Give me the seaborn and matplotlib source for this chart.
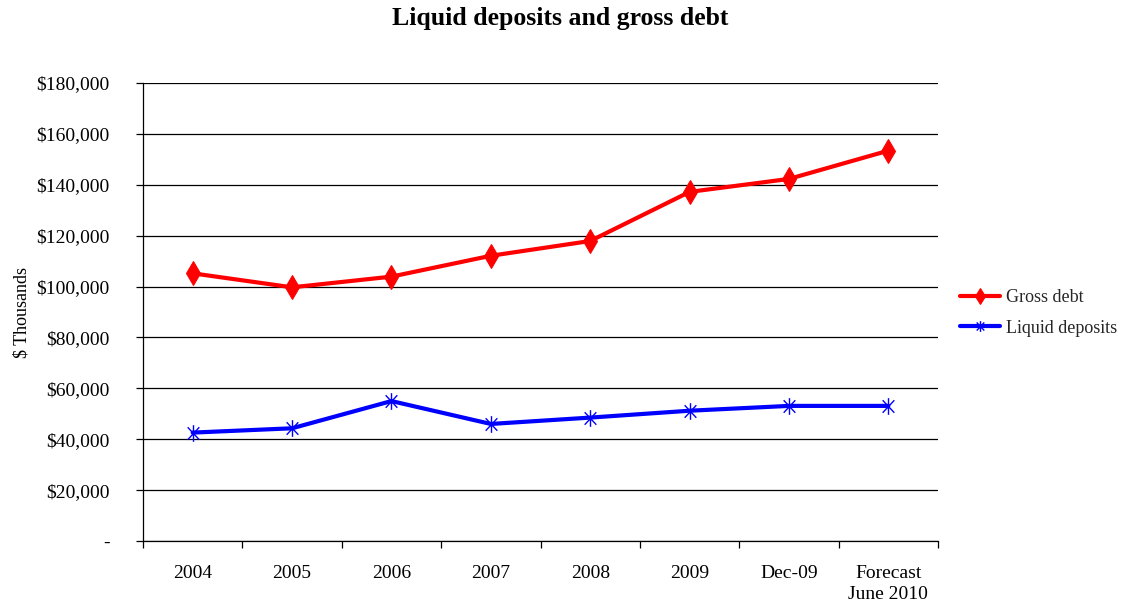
import matplotlib
matplotlib.use("Agg")
import matplotlib.pyplot as plt
import seaborn as sns
import pandas as pd
import numpy as np
from matplotlib.path import Path
from matplotlib.ticker import FixedLocator, FuncFormatter

categories = ["2004", "2005", "2006", "2007", "2008", "2009", "Dec-09", "Forecast\nJune 2010"]
gross_debt = [105200, 99700, 103900, 112100, 117900, 137200, 142300, 153400]
liquid_deposits = [42600, 44300, 55000, 46000, 48500, 51200, 53100, 53100]
y_ticks = [0, 20000, 40000, 60000, 80000, 100000, 120000, 140000, 160000, 180000]

sns.set_theme(style="white")
plt.rcParams['font.family'] = ['Liberation Serif', 'DejaVu Serif']

df = pd.DataFrame({
    "pos": list(range(len(categories))) * 2,
    "value": gross_debt + liquid_deposits,
    "series": ["Gross debt"] * len(categories) + ["Liquid deposits"] * len(categories),
})

fig = plt.figure(figsize=(11.33, 6.03), dpi=100)
ax = fig.add_axes([143 / 1133, 1 - 541 / 603, (938 - 143) / 1133, (541 - 83) / 603])

asterisk = Path(
    [(0, -1), (0, 1), (-0.7, -0.75), (0.7, 0.75), (-0.7, 0.75), (0.7, -0.75)],
    [Path.MOVETO, Path.LINETO, Path.MOVETO, Path.LINETO, Path.MOVETO, Path.LINETO],
)

for ylev in y_ticks:
    ax.axhline(ylev, color="black", lw=0.9, zorder=0)

sns.lineplot(data=df[df.series == "Gross debt"], x="pos", y="value", ax=ax,
             color="#ff0000", lw=3.0, marker="d", markersize=12,
             markeredgecolor="#ff0000", markerfacecolor="#ff0000",
             label="Gross debt", zorder=3)
sns.lineplot(data=df[df.series == "Liquid deposits"], x="pos", y="value", ax=ax,
             color="#0000ff", lw=3.0, marker=asterisk, markersize=12,
             markeredgecolor="#0000ff", markeredgewidth=1.0, fillstyle="none",
             label="Liquid deposits", zorder=3)

ax.set_xlim(-0.5, len(categories) - 0.5)
ax.set_ylim(0, 180000)
ax.set_yticks(y_ticks)
ax.yaxis.set_major_formatter(FuncFormatter(lambda v, p: "-" if v == 0 else f"${v:,.0f}"))
ax.set_xticks(range(len(categories)))
ax.set_xticklabels(categories, linespacing=1.35)
ax.xaxis.set_minor_locator(FixedLocator(np.arange(-0.5, len(categories), 1.0)))
ax.tick_params(axis="x", which="major", length=0, pad=17, labelsize=14, colors="black")
ax.tick_params(axis="x", which="minor", length=5, width=0.9, color="black", direction="out", bottom=True)
ax.tick_params(axis="y", which="major", length=5, width=0.9, color="black", direction="out",
               left=True, pad=19, labelsize=14, labelcolor="black")
ax.set_xlabel("")
ax.set_ylabel("$ Thousands", fontsize=13, color="black")
ax.yaxis.set_label_coords(-0.142, 0.5)

for s in ["top", "right"]:
    ax.spines[s].set_visible(False)
for s in ["left", "bottom"]:
    ax.spines[s].set_color("black")
    ax.spines[s].set_linewidth(0.9)

leg = ax.legend(loc="center left", bbox_to_anchor=(944 / 1133, 1 - 313 / 603),
                bbox_transform=fig.transFigure, frameon=False, fontsize=13,
                handlelength=2.2, handletextpad=0.35, labelspacing=0.75, markerscale=0.65)

fig.text(560 / 1133, 1 - 18 / 603, "Liquid deposits and gross debt", ha="center", va="center",
         fontsize=18.5, fontweight="bold", color="black")

fig.savefig("out.png", dpi=100, facecolor="white")
